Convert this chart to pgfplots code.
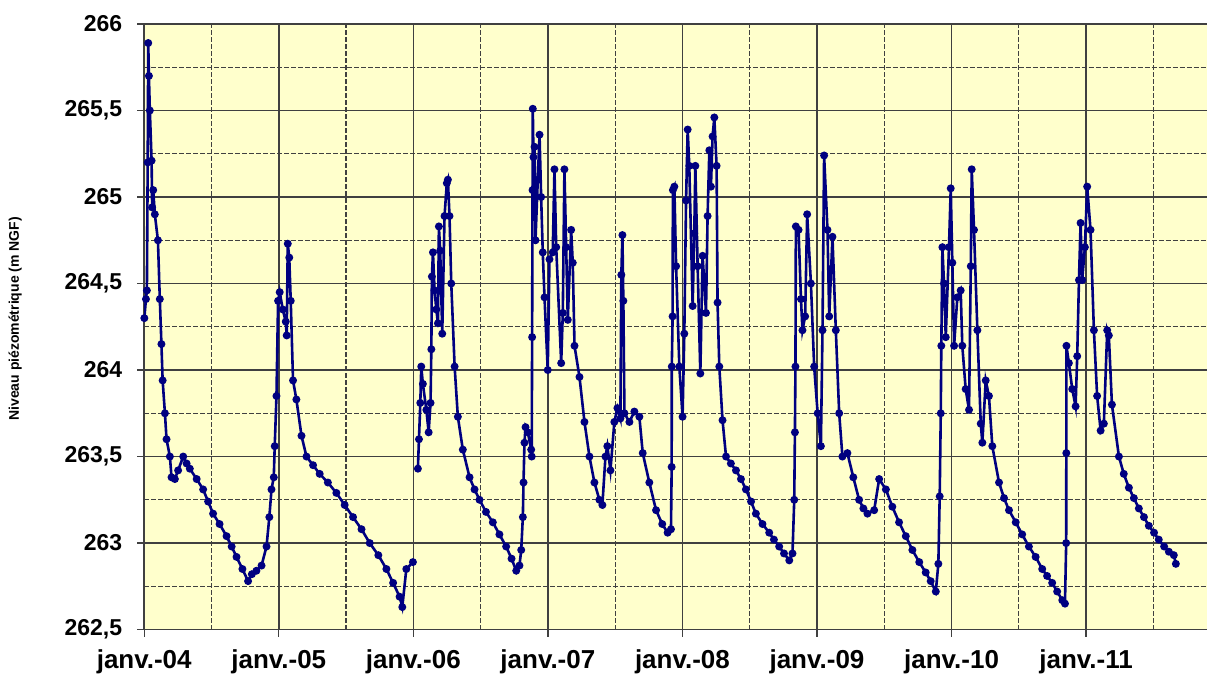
\documentclass[border=0pt]{standalone}
\usepackage{fontspec}
\setmainfont{Liberation Sans}
\usepackage{pgfplots}
\pgfplotsset{compat=1.18}
\definecolor{fond}{HTML}{FFFFCC}
\definecolor{serie}{HTML}{000080}
\definecolor{grille}{HTML}{404040}

\begin{document}
\begin{tikzpicture}
\begin{axis}[
    scale only axis,
    width=531.85pt, height=303pt,
    xmin=2004, xmax=2011.9,
    ymin=262.5, ymax=266,
    axis background/.style={fill=fond},
    axis x line*=bottom, axis y line*=left,
    axis line style={grille, line width=0.7pt},
    xtick={2004,2005,2006,2007,2008,2009,2010,2011},
    xticklabels={janv.-04,janv.-05,janv.-06,janv.-07,janv.-08,janv.-09,janv.-10,janv.-11},
    minor xtick={2004.5,2005.5,2006.5,2007.5,2008.5,2009.5,2010.5,2011.5},
    ytick={262.5,263,263.5,264,264.5,265,265.5,266},
    minor ytick={262.75,263.25,263.75,264.25,264.75,265.25,265.75},
    tick align=outside,
    major tick length=3.5pt, minor tick length=0pt,
    tick style={grille, line width=0.7pt},
    grid=both,
    major grid style={grille, line width=0.8pt},
    minor grid style={grille, line width=0.6pt, dash pattern=on 2.5pt off 1pt},
    /pgf/number format/assume math mode=true,
    xticklabel style={font=\fontsize{13}{15}\selectfont\bfseries, yshift=-3pt},
    yticklabel style={font=\fontsize{11.5}{13}\selectfont\bfseries, xshift=-4pt,
      /pgf/number format/.cd, use comma, fixed, precision=1},
    ylabel={Niveau piézométrique (m NGF)},
    ylabel style={font=\fontsize{7}{8}\selectfont\bfseries, at={(axis description cs:-0.1213,0.513)}, anchor=center},
    unbounded coords=jump,
    clip=true,
]
\addplot[color=serie, line width=1.3pt, mark=*, mark size=1.3pt] table {
x y
2004.001 264.30
2004.013 264.41
2004.020 264.46
2004.026 265.20
2004.030 265.89
2004.035 265.70
2004.042 265.50
2004.055 265.21
2004.059 264.94
2004.067 265.04
2004.079 264.90
2004.102 264.75
2004.116 264.41
2004.128 264.15
2004.137 263.94
2004.154 263.75
2004.166 263.60
2004.191 263.50
2004.203 263.38
2004.228 263.37
2004.252 263.42
2004.290 263.50
2004.315 263.46
2004.339 263.43
2004.390 263.37
2004.438 263.31
2004.475 263.24
2004.512 263.17
2004.560 263.11
2004.612 263.04
2004.650 262.98
2004.686 262.92
2004.730 262.85
2004.772 262.78
2004.800 262.82
2004.834 262.84
2004.872 262.87
2004.909 262.98
2004.930 263.15
2004.946 263.31
2004.963 263.38
2004.970 263.56
2004.983 263.85
2004.995 264.40
2005.007 264.45
2005.030 264.35
2005.052 264.28
2005.059 264.20
2005.067 264.73
2005.078 264.65
2005.089 264.40
2005.106 263.94
2005.131 263.83
2005.169 263.62
2005.206 263.50
2005.255 263.45
2005.304 263.40
2005.365 263.35
2005.428 263.29
2005.490 263.22
2005.552 263.15
2005.615 263.08
2005.676 263.00
2005.740 262.93
2005.800 262.85
2005.850 262.77
2005.898 262.69
2005.918 262.63
2005.948 262.85
2005.997 262.89
2006.015 nan
2006.034 263.43
2006.042 263.60
2006.052 263.81
2006.059 264.02
2006.071 263.92
2006.097 263.77
2006.114 263.64
2006.128 263.81
2006.134 264.12
2006.138 264.54
2006.146 264.68
2006.158 264.46
2006.171 264.35
2006.183 264.27
2006.190 264.83
2006.200 264.69
2006.215 264.21
2006.232 264.89
2006.249 265.08
2006.257 265.10
2006.269 264.89
2006.282 264.50
2006.307 264.02
2006.331 263.73
2006.368 263.54
2006.418 263.38
2006.455 263.31
2006.492 263.25
2006.540 263.18
2006.591 263.12
2006.640 263.05
2006.690 262.98
2006.730 262.91
2006.765 262.84
2006.789 262.87
2006.802 262.96
2006.814 263.15
2006.819 263.35
2006.826 263.58
2006.834 263.67
2006.851 263.64
2006.876 263.54
2006.880 263.50
2006.883 264.19
2006.886 265.04
2006.888 265.51
2006.893 265.23
2006.901 265.29
2006.908 264.75
2006.925 265.10
2006.938 265.36
2006.950 265.00
2006.962 264.68
2006.975 264.42
2006.999 264.00
2007.012 264.64
2007.036 264.68
2007.049 265.16
2007.062 264.71
2007.099 264.04
2007.111 264.33
2007.123 265.16
2007.136 264.71
2007.148 264.29
2007.173 264.81
2007.185 264.62
2007.198 264.14
2007.235 263.96
2007.272 263.70
2007.309 263.50
2007.346 263.35
2007.383 263.25
2007.405 263.22
2007.428 263.50
2007.442 263.56
2007.465 263.42
2007.494 263.70
2007.517 263.78
2007.539 263.72
2007.546 264.55
2007.554 264.78
2007.561 264.40
2007.569 263.75
2007.606 263.70
2007.643 263.76
2007.680 263.73
2007.705 263.52
2007.754 263.35
2007.804 263.19
2007.850 263.11
2007.890 263.06
2007.915 263.08
2007.920 263.44
2007.921 264.02
2007.927 264.31
2007.929 265.04
2007.940 265.06
2007.953 264.60
2007.977 264.02
2008.001 263.73
2008.014 264.21
2008.027 264.98
2008.039 265.39
2008.051 265.18
2008.076 264.37
2008.088 264.79
2008.096 265.18
2008.113 264.60
2008.133 263.98
2008.150 264.66
2008.163 264.50
2008.175 264.33
2008.187 264.89
2008.200 265.27
2008.212 265.06
2008.224 265.35
2008.237 265.46
2008.254 265.18
2008.261 264.39
2008.274 264.02
2008.298 263.71
2008.324 263.50
2008.360 263.46
2008.398 263.42
2008.435 263.37
2008.472 263.31
2008.510 263.24
2008.546 263.17
2008.595 263.11
2008.645 263.06
2008.680 263.02
2008.719 262.98
2008.755 262.94
2008.794 262.90
2008.818 262.94
2008.831 263.25
2008.836 263.64
2008.840 264.02
2008.843 264.83
2008.863 264.81
2008.881 264.41
2008.892 264.23
2008.912 264.31
2008.927 264.90
2008.955 264.50
2008.979 264.02
2009.005 263.75
2009.029 263.56
2009.041 264.23
2009.053 265.24
2009.078 264.81
2009.091 264.31
2009.115 264.77
2009.140 264.23
2009.165 263.75
2009.189 263.50
2009.226 263.52
2009.270 263.38
2009.313 263.25
2009.345 263.20
2009.375 263.17
2009.425 263.19
2009.462 263.37
2009.512 263.31
2009.560 263.21
2009.610 263.12
2009.660 263.04
2009.709 262.96
2009.760 262.89
2009.808 262.83
2009.845 262.78
2009.883 262.72
2009.902 262.88
2009.912 263.27
2009.920 263.75
2009.924 264.14
2009.932 264.71
2009.944 264.50
2009.957 264.19
2009.981 264.71
2009.994 265.05
2010.006 264.62
2010.019 264.14
2010.043 264.42
2010.068 264.46
2010.080 264.14
2010.105 263.89
2010.130 263.77
2010.143 264.60
2010.150 265.16
2010.167 264.81
2010.192 264.23
2010.217 263.69
2010.229 263.58
2010.254 263.94
2010.278 263.85
2010.303 263.56
2010.353 263.35
2010.390 263.26
2010.427 263.19
2010.477 263.12
2010.525 263.05
2010.575 262.98
2010.625 262.92
2010.674 262.85
2010.710 262.81
2010.748 262.77
2010.785 262.72
2010.823 262.67
2010.843 262.65
2010.852 263.00
2010.853 263.52
2010.854 264.14
2010.872 264.04
2010.897 263.89
2010.922 263.79
2010.934 264.08
2010.947 264.52
2010.959 264.85
2010.971 264.52
2010.991 264.71
2011.008 265.06
2011.033 264.81
2011.058 264.23
2011.082 263.85
2011.108 263.65
2011.132 263.69
2011.157 264.23
2011.169 264.20
2011.192 263.80
2011.244 263.50
2011.280 263.40
2011.318 263.32
2011.355 263.26
2011.392 263.20
2011.430 263.15
2011.466 263.10
2011.505 263.06
2011.540 263.02
2011.580 262.98
2011.615 262.95
2011.652 262.93
2011.667 262.88
};
\end{axis}
\path (current axis.south west) ++(-72.15pt,-22.5pt) coordinate (bl);
\path (current axis.north east) ++(0pt,12pt) coordinate (tr);
\path (bl) -- (tr);
\end{tikzpicture}
\end{document}
